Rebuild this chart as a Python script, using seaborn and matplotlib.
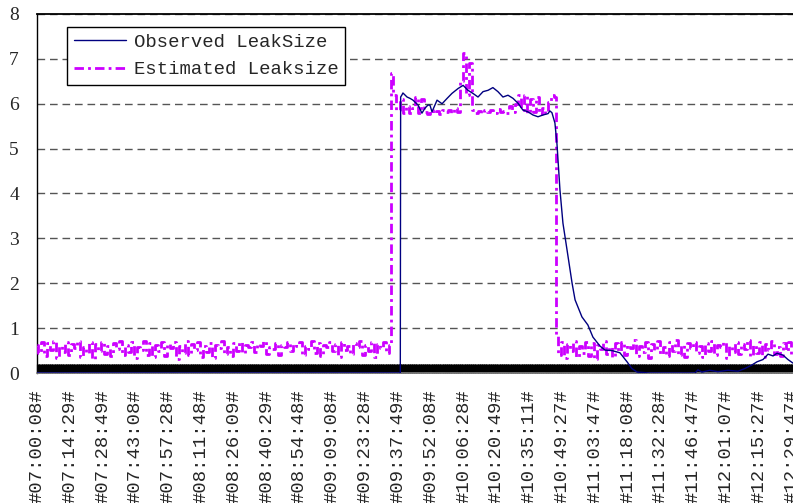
import numpy as np
import pandas as pd
import matplotlib
matplotlib.use("Agg")
import matplotlib.pyplot as plt
from matplotlib.ticker import MultipleLocator
import seaborn as sns

# x axis labels (category labels of the original sheet)
tick_labels = ["#07:00:08#", "#07:14:29#", "#07:28:49#", "#07:43:08#", "#07:57:28#",
               "#08:11:48#", "#08:26:09#", "#08:40:29#", "#08:54:48#", "#09:09:08#",
               "#09:23:28#", "#09:37:49#", "#09:52:08#", "#10:06:28#", "#10:20:49#",
               "#10:35:11#", "#10:49:27#", "#11:03:47#", "#11:18:08#", "#11:32:28#",
               "#11:46:47#", "#12:01:07#", "#12:15:27#", "#12:29:47#"]

# observed leak size, (minutes after 07:00, value)
obs_t = [0.13, 158.85, 159.0, 159.6, 160.0, 161.8, 163.1, 164.4, 166.6, 168.3,
         169.6, 170.9, 171.8, 172.7, 174.9, 177.1, 179.3, 181.4, 184.1, 186.3,
         188.4, 190.6, 192.8, 195.0, 197.2, 199.3, 201.5, 203.7, 205.9, 208.1,
         210.3, 212.4, 214.6, 216.8, 219.0, 221.2, 223.4, 224.2, 225.1, 226.4,
         227.3, 228.6, 229.9, 231.7, 233.9, 235.2, 238.2, 240.8, 243.0, 246.1,
         248.3, 251.3, 254.8, 257.9, 260.0, 262.3, 267.9, 287.6, 288.9, 290.6,
         294.1, 297.6, 302.0, 306.4, 309.4, 312.5, 314.7, 317.3, 319.5, 321.7,
         323.4, 326.0, 328.2, 330.4]
obs_v = [0.00, 0.00, 6.15, 6.20, 6.24, 6.15, 6.12, 6.08, 5.97, 5.79,
         5.90, 5.97, 5.97, 5.82, 6.08, 6.00, 6.12, 6.23, 6.34, 6.41,
         6.30, 6.23, 6.15, 6.27, 6.30, 6.36, 6.27, 6.15, 6.19, 6.12,
         6.01, 5.86, 5.82, 5.75, 5.71, 5.75, 5.78, 5.84, 5.80, 5.57,
         5.10, 4.08, 3.34, 2.74, 2.00, 1.63, 1.25, 1.07, 0.80, 0.60,
         0.51, 0.50, 0.45, 0.25, 0.10, 0.02, 0.00, 0.00, 0.07, 0.02,
         0.06, 0.03, 0.06, 0.04, 0.10, 0.18, 0.25, 0.30, 0.42, 0.38,
         0.44, 0.40, 0.30, 0.22]

# estimated leak size, three stretches (start/end minute and values)
est_base1_span = (0.13, 154.4)
est_base1 = [0.62, 0.45, 0.70, 0.38, 0.66, 0.52, 0.71, 0.34, 0.60, 0.47,
             0.69, 0.40, 0.64, 0.55, 0.72, 0.36, 0.58, 0.44, 0.68, 0.31,
             0.65, 0.50, 0.70, 0.42, 0.61, 0.37, 0.67, 0.53, 0.71, 0.39,
             0.63, 0.46, 0.69, 0.33, 0.59, 0.51, 0.72, 0.41, 0.66, 0.35,
             0.62, 0.48, 0.70, 0.38, 0.64, 0.56, 0.68, 0.32, 0.60, 0.45,
             0.71, 0.40, 0.65, 0.52, 0.69, 0.36, 0.61, 0.47, 0.67, 0.34,
             0.63, 0.55, 0.72, 0.42, 0.58, 0.38, 0.66, 0.50, 0.70, 0.44,
             0.62, 0.57, 0.68, 0.46, 0.64, 0.60, 0.71, 0.43, 0.59, 0.53,
             0.67, 0.39, 0.63, 0.58, 0.70, 0.48, 0.65, 0.61, 0.69, 0.41,
             0.60, 0.54, 0.72, 0.45, 0.66, 0.37, 0.62, 0.57, 0.68, 0.49,
             0.64, 0.35, 0.70, 0.52, 0.61, 0.43, 0.67, 0.58, 0.71, 0.40,
             0.63, 0.50, 0.69, 0.36, 0.65, 0.55, 0.70, 0.44, 0.62]
est_high_span = (155.2, 226.7)
est_high = [6.68, 6.20, 5.85, 6.10, 5.80, 5.95, 5.80, 5.90, 6.15, 5.80,
            6.10, 5.82, 5.78, 5.85, 5.80, 5.83, 5.78, 5.85, 5.82, 5.86,
            5.80, 5.90, 5.82, 6.50, 7.12, 6.20, 6.90, 5.85, 5.80, 5.84,
            5.80, 5.86, 5.82, 5.85, 5.80, 5.88, 5.82, 5.84, 5.80, 5.95,
            5.82, 6.00, 6.20, 5.85, 6.20, 5.80, 6.10, 5.82, 6.15, 5.78,
            5.90, 5.80, 6.05, 6.20, 6.15]
est_base2_span = (227.3, 330.4)
est_base2 = [0.85, 0.40, 0.68, 0.33, 0.64, 0.50, 0.71, 0.36, 0.60, 0.45,
             0.69, 0.38, 0.66, 0.31, 0.62, 0.54, 0.72, 0.42, 0.58, 0.35,
             0.67, 0.48, 0.70, 0.40, 0.63, 0.56, 0.73, 0.37, 0.61, 0.46,
             0.68, 0.33, 0.65, 0.52, 0.71, 0.43, 0.59, 0.38, 0.69, 0.50,
             0.74, 0.41, 0.62, 0.35, 0.67, 0.55, 0.70, 0.44, 0.60, 0.36,
             0.66, 0.49, 0.72, 0.39, 0.63, 0.57, 0.69, 0.34, 0.61, 0.47,
             0.70, 0.42, 0.65, 0.53, 0.73, 0.38, 0.62, 0.45, 0.68, 0.36,
             0.64, 0.51, 0.71, 0.43, 0.59, 0.37, 0.67, 0.48, 0.70, 0.40]

est_t = np.concatenate([np.linspace(*est_base1_span, len(est_base1)),
                        np.linspace(*est_high_span, len(est_high)),
                        np.linspace(*est_base2_span, len(est_base2))])
est_v = est_base1 + est_high + est_base2

obs = pd.DataFrame({"t": obs_t, "v": obs_v})
est = pd.DataFrame({"t": est_t, "v": est_v})


def to_minutes(lbl):
    h, m, s = lbl.strip("#").split(":")
    return int(h) * 60 + int(m) + int(s) / 60 - 420


tick_pos = [to_minutes(l) for l in tick_labels]

sns.set_style("white")
plt.rcParams["font.family"] = ["Liberation Mono", "DejaVu Sans"]

fig = plt.figure(figsize=(7.93, 5.03), dpi=100)
ax = fig.add_axes([37 / 793, 130 / 503, 759 / 793, 359 / 503])

sns.lineplot(data=obs, x="t", y="v", ax=ax, color="#000080", linewidth=1.0,
             estimator=None, sort=False, label="Observed LeakSize", zorder=4)
sns.lineplot(data=est, x="t", y="v", ax=ax, color="#CC00FF", linewidth=2.0,
             estimator=None, sort=False, label="Estimated Leaksize", zorder=3,
             drawstyle="steps-mid")
ax.lines[1].set_linestyle((0, (3.4, 1.5, 1.0, 1.5)))

ax.set_xlim(tick_pos[0], tick_pos[0] + 759 / 2.289)
ax.set_ylim(0, 8)
ax.set_xlabel("")
ax.set_ylabel("")

ax.set_xticks(tick_pos)
ax.set_xticklabels(tick_labels, rotation=90, fontsize=13.6,
                   family=["Liberation Mono"], va="top")
ax.xaxis.set_minor_locator(MultipleLocator(0.3))
ax.tick_params(axis="x", which="major", length=0, pad=12)
ax.tick_params(axis="x", which="minor", direction="in", length=6.2,
               width=0.9, color="black", bottom=True)

ax.set_yticks(range(0, 9))
ax.set_yticklabels([str(i) for i in range(0, 9)], fontsize=14,
                   family=["Liberation Serif"])
ax.tick_params(axis="y", length=0, pad=13)

ax.yaxis.grid(True, color="#555555", linewidth=1.0, linestyle=(0, (5.5, 3.5)))
ax.xaxis.grid(False)

ax.spines["top"].set_color("black")
ax.spines["top"].set_linewidth(1.3)
ax.spines["left"].set_color("black")
ax.spines["left"].set_linewidth(1.0)
ax.spines["bottom"].set_color("#808080")
ax.spines["bottom"].set_linewidth(1.2)
ax.spines["right"].set_visible(False)

leg = ax.legend(loc="upper left", bbox_to_anchor=(0.0395, 0.964),
                borderaxespad=0, frameon=True, fancybox=False,
                prop={"family": "Liberation Mono", "size": 13.6},
                handlelength=2.8, handletextpad=0.38, borderpad=0.35,
                labelspacing=0.55)
leg.get_frame().set_edgecolor("black")
leg.get_frame().set_linewidth(1.0)
leg.get_frame().set_alpha(1)

fig.savefig("out.png", dpi=100)
